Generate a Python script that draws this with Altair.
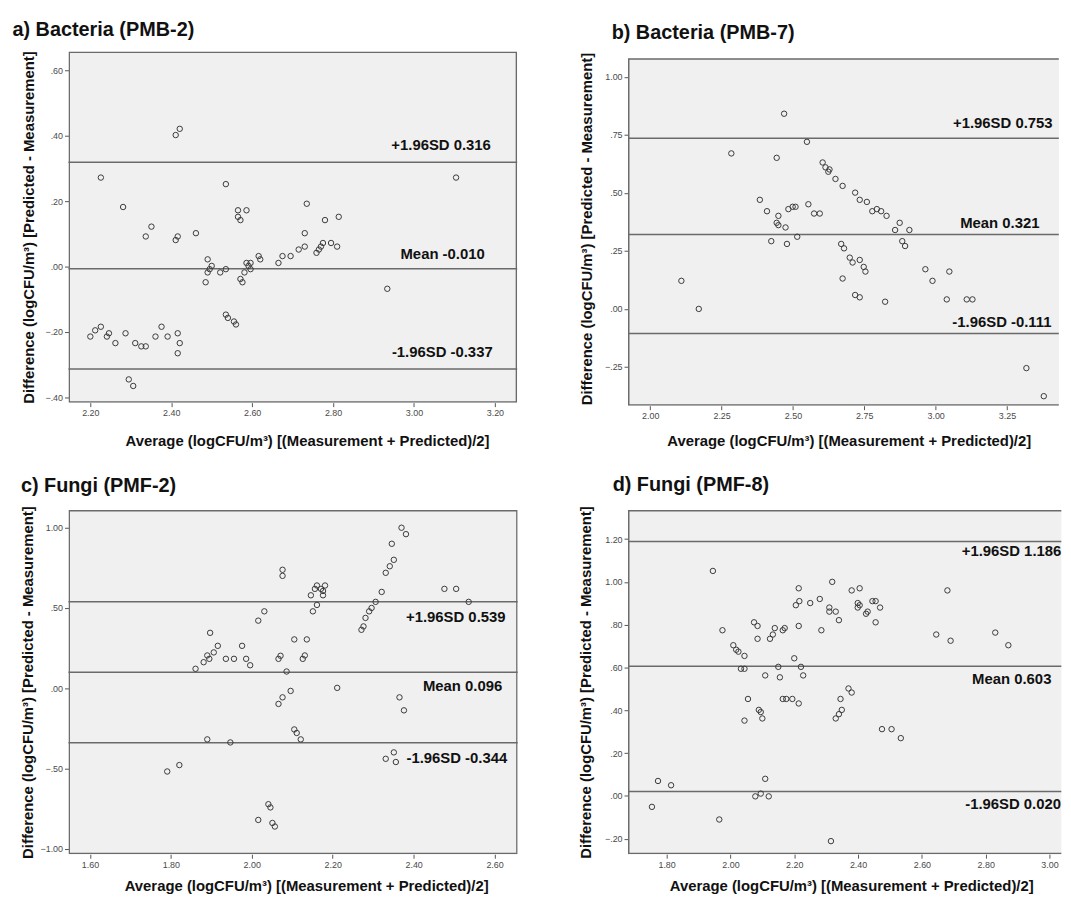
import altair as alt
import pandas as pd

FONT = "Liberation Sans"
X_TITLE = "Average (logCFU/m³) [(Measurement + Predicted)/2]"
Y_TITLE = "Difference (logCFU/m³) [Predicted - Measurement]"

# ---------------- panel a) Bacteria (PMB-2) ----------------
a_avg = [2.200, 2.212, 2.226, 2.226, 2.241, 2.246, 2.262, 2.281, 2.287, 2.295,
         2.306, 2.311, 2.326, 2.337, 2.337, 2.351, 2.361, 2.376, 2.391, 2.411,
         2.421, 2.411, 2.416, 2.416, 2.421, 2.416, 2.461, 2.485, 2.490, 2.490,
         2.495, 2.500, 2.521, 2.535, 2.535, 2.535, 2.540, 2.555, 2.560, 2.565,
         2.565, 2.571, 2.571, 2.576, 2.581, 2.586, 2.586, 2.591, 2.596, 2.596,
         2.616, 2.620, 2.665, 2.675, 2.695, 2.715, 2.730, 2.730, 2.735, 2.759,
         2.765, 2.770, 2.775, 2.780, 2.795, 2.810, 2.814, 2.934, 3.104]
a_diff = [-0.214, -0.195, 0.272, -0.184, -0.214, -0.204, -0.234, 0.182, -0.204, -0.345,
          -0.365, -0.234, -0.244, -0.244, 0.092, 0.122, -0.214, -0.184, -0.214, 0.402,
          0.421, 0.081, 0.092, -0.204, -0.234, -0.265, 0.102, -0.048, 0.022, -0.018,
          -0.008, 0.002, -0.018, 0.252, -0.008, -0.147, -0.157, -0.168, -0.177, 0.172,
          0.152, 0.142, -0.038, -0.048, -0.018, 0.172, 0.011, 0.002, 0.011, -0.008,
          0.032, 0.022, 0.011, 0.032, 0.032, 0.052, 0.061, 0.102, 0.192, 0.042,
          0.052, 0.061, 0.072, 0.142, 0.072, 0.061, 0.152, -0.068, 0.272]
a_lines = [0.319, -0.007, -0.313]
a_labels = ["+1.96SD 0.316", "Mean -0.010", "-1.96SD -0.337"]
a_xticks = [2.2, 2.4, 2.6, 2.8, 3.0, 3.2]
a_yticks = [-0.4, -0.2, 0.0, 0.2, 0.4, 0.6]

# ---------------- panel b) Bacteria (PMB-7) ----------------
b_avg = [2.109, 2.170, 2.284, 2.384, 2.409, 2.443, 2.443, 2.449, 2.449, 2.424,
         2.469, 2.474, 2.479, 2.484, 2.499, 2.509, 2.515, 2.549, 2.554, 2.574,
         2.594, 2.604, 2.614, 2.624, 2.628, 2.649, 2.669, 2.674, 2.679, 2.674,
         2.699, 2.709, 2.718, 2.718, 2.734, 2.734, 2.734, 2.748, 2.754, 2.759,
         2.778, 2.794, 2.809, 2.823, 2.828, 2.858, 2.874, 2.883, 2.893, 2.908,
         2.964, 2.989, 3.039, 3.048, 3.109, 3.129, 3.318, 3.379]
b_diff = [0.121, 0.000, 0.670, 0.470, 0.421, 0.651, 0.371, 0.401, 0.361, 0.292,
          0.841, 0.351, 0.280, 0.430, 0.440, 0.440, 0.311, 0.720, 0.451, 0.411,
          0.411, 0.631, 0.610, 0.591, 0.601, 0.560, 0.280, 0.530, 0.261, 0.131,
          0.221, 0.200, 0.501, 0.060, 0.470, 0.211, 0.050, 0.181, 0.161, 0.461,
          0.421, 0.430, 0.421, 0.031, 0.401, 0.340, 0.371, 0.292, 0.271, 0.340,
          0.171, 0.121, 0.041, 0.161, 0.041, 0.041, -0.255, -0.376]
b_lines = [0.735, 0.321, -0.106]
b_labels = ["+1.96SD 0.753", "Mean 0.321", "-1.96SD -0.111"]
b_xticks = [2.0, 2.25, 2.5, 2.75, 3.0, 3.25]
b_yticks = [-0.25, 0.0, 0.25, 0.5, 0.75, 1.0]

# ---------------- panel c) Fungi (PMF-2) ----------------
c_avg = [1.791, 1.821, 1.861, 1.881, 1.890, 1.895, 1.897, 1.906, 1.916, 1.890,
         1.936, 1.947, 1.956, 1.976, 1.986, 1.996, 2.016, 2.031, 2.016, 2.041,
         2.046, 2.051, 2.057, 2.066, 2.071, 2.076, 2.076, 2.066, 2.076, 2.086,
         2.096, 2.105, 2.105, 2.111, 2.121, 2.126, 2.131, 2.136, 2.146, 2.151,
         2.156, 2.161, 2.161, 2.171, 2.176, 2.181, 2.176, 2.211, 2.271, 2.276,
         2.281, 2.290, 2.296, 2.306, 2.321, 2.331, 2.341, 2.346, 2.351, 2.331,
         2.351, 2.356, 2.365, 2.370, 2.376, 2.381, 2.476, 2.505, 2.536]
c_diff = [-0.519, -0.479, 0.121, 0.162, 0.204, 0.183, 0.345, 0.223, 0.264, -0.319,
          0.183, -0.338, 0.183, 0.264, 0.183, 0.143, 0.421, 0.479, -0.821, -0.723,
          -0.743, -0.840, -0.862, 0.183, 0.202, 0.738, 0.700, -0.098, -0.057, 0.104,
          -0.017, 0.304, -0.257, -0.279, -0.319, 0.183, 0.204, 0.304, 0.579, 0.479,
          0.619, 0.519, 0.640, 0.619, 0.579, 0.640, 0.606, 0.002, 0.364, 0.385,
          0.438, 0.479, 0.500, 0.538, 0.600, 0.719, 0.760, 0.900, 0.800, -0.440,
          -0.400, -0.460, -0.057, 1.000, -0.138, 0.960, 0.619, 0.619, 0.538]
c_lines = [0.538, 0.100, -0.340]
c_labels = ["+1.96SD 0.539", "Mean 0.096", "-1.96SD -0.344"]
c_xticks = [1.6, 1.8, 2.0, 2.2, 2.4, 2.6]
c_yticks = [-1.0, -0.5, 0.0, 0.5, 1.0]

# ---------------- panel d) Fungi (PMF-8) ----------------
d_avg = [1.754, 1.773, 1.814, 1.945, 1.965, 1.975, 2.009, 2.018, 2.025, 2.033,
         2.044, 2.044, 2.055, 2.044, 2.074, 2.085, 2.085, 2.078, 2.089, 2.095,
         2.100, 2.095, 2.109, 2.109, 2.120, 2.124, 2.133, 2.139, 2.150, 2.155,
         2.164, 2.170, 2.164, 2.175, 2.194, 2.200, 2.205, 2.214, 2.216, 2.214,
         2.214, 2.221, 2.228, 2.250, 2.280, 2.285, 2.310, 2.310, 2.319, 2.330,
         2.340, 2.315, 2.330, 2.340, 2.345, 2.349, 2.370, 2.380, 2.380, 2.399,
         2.399, 2.405, 2.405, 2.425, 2.430, 2.445, 2.455, 2.455, 2.469, 2.475,
         2.505, 2.534, 2.645, 2.680, 2.690, 2.830, 2.871]
d_diff = [-0.051, 0.070, 0.050, 1.051, -0.110, 0.774, 0.704, 0.683, 0.674, 0.594,
          0.594, 0.654, 0.453, 0.352, 0.811, 0.794, 0.734, -0.002, 0.402, 0.392,
          0.362, 0.011, 0.563, 0.080, -0.002, 0.734, 0.754, 0.784, 0.603, 0.554,
          0.774, 0.784, 0.453, 0.453, 0.453, 0.643, 0.891, 0.970, 0.910, 0.794,
          0.432, 0.603, 0.563, 0.901, 0.920, 0.774, 0.880, 0.861, 1.000, 0.861,
          0.821, -0.211, 0.362, 0.382, 0.453, 0.402, 0.502, 0.483, 0.960, 0.901,
          0.880, 0.970, 0.891, 0.851, 0.861, 0.910, 0.910, 0.811, 0.880, 0.312,
          0.312, 0.270, 0.754, 0.960, 0.725, 0.763, 0.704]
d_lines = [1.189, 0.606, 0.021]
d_labels = ["+1.96SD 1.186", "Mean 0.603", "-1.96SD 0.020"]
d_xticks = [1.8, 2.0, 2.2, 2.4, 2.6, 2.8, 3.0]
d_yticks = [-0.2, 0.0, 0.2, 0.4, 0.6, 0.8, 1.0, 1.2]

Y_LABEL_EXPR = "replace(format(datum.value, '.2f'), '0.', '.')"


def panel(avg, diff, lines, labels, title, xdom, ydom, xticks, yticks,
          W, H, frame_top, right_open, ann_dy, ann_rpad,
          title_dx, title_offset, ytitle_x, xtitle_x, xtitle_y):
    pts = pd.DataFrame({"avg": avg, "diff": diff})
    ann = pd.DataFrame({"val": lines, "lab": labels})
    xs = alt.Scale(domain=xdom, nice=False, zero=False)
    ys = alt.Scale(domain=ydom, nice=False, zero=False)
    x_axis = alt.Axis(values=xticks, format=".2f", title=X_TITLE,
                      titleX=xtitle_x, titleY=xtitle_y, titleBaseline="middle")
    y_axis = alt.Axis(values=yticks, labelExpr=Y_LABEL_EXPR, title=Y_TITLE,
                      titleX=ytitle_x, titleBaseline="middle")

    frame = alt.Chart(pd.DataFrame({"k": [0]})).mark_rect(
        fill="#f0f0f0", stroke="#6a6a6a", strokeWidth=1.5, clip=True
    ).encode(
        x=alt.value(0.75),
        x2=alt.value(W + 3 if right_open else W - 0.75),
        y=alt.value(frame_top + 0.75),
        y2=alt.value(H - 0.75),
    )

    rules = alt.Chart(ann).mark_rule(color="#6a6a6a", strokeWidth=1.5).encode(
        y=alt.Y("val:Q", scale=ys, axis=y_axis)
    )

    points = alt.Chart(pts).mark_point(
        shape="circle", filled=False, size=30, color="#3a3a3a", strokeWidth=1, opacity=1
    ).encode(
        x=alt.X("avg:Q", scale=xs, axis=x_axis),
        y=alt.Y("diff:Q", scale=ys, axis=y_axis),
    )

    texts = []
    for i in range(len(labels)):
        t = alt.Chart(ann.iloc[[i]]).mark_text(
            align="right", baseline="middle", dy=ann_dy[i],
            font=FONT, fontSize=15, fontWeight="bold", color="#111111"
        ).encode(
            y=alt.Y("val:Q", scale=ys, axis=y_axis),
            x=alt.value(W - ann_rpad[i]),
            text="lab:N",
        )
        texts.append(t)

    return alt.layer(frame, rules, points, *texts).properties(
        width=W, height=H,
        title=alt.TitleParams(
            text=title, anchor="start", frame="group", dx=title_dx,
            offset=title_offset, baseline="alphabetic",
            font=FONT, fontSize=20, fontWeight="bold", color="#111111"),
    )


pa = panel(a_avg, a_diff, a_lines, a_labels, "a) Bacteria (PMB-2)",
           [2.146, 3.255], [-0.416, 0.6576], a_xticks, a_yticks,
           452.5, 354.2, 0, False, [-17, -15, -17], [26.5, 32.7, 24.7],
           -56.5, -5, -40.6, 240.6, 38)

pb = panel(b_avg, b_diff, b_lines, b_labels, "b) Bacteria (PMB-7)",
           [1.922, 3.4317], [-0.417, 1.1094], b_xticks, b_yticks,
           434.5, 357.3, 7, True, [-15.5, -11, -12], [6.3, 19.5, 7.4],
           -16.5, -7.5, -42, 222.6, 35)

pc = panel(c_avg, c_diff, c_lines, c_labels, "c) Fungi (PMF-2)",
           [1.547, 2.657], [-1.035, 1.111], c_xticks, c_yticks,
           453, 347.3, 0, False, [15, 14.5, 15], [12.2, 15.6, 10.5],
           -48, -6.3, -41.3, 239.7, 32)

pd_ = panel(d_avg, d_diff, d_lines, d_labels, "d) Fungi (PMF-8)",
            [1.679, 3.037], [-0.272, 1.336], d_xticks, d_yticks,
            437, 347.2, 0, True, [9.7, 13, 12.2], [0, 10, 0.3],
            -15.5, -5.2, -43, 225.1, 32)

chart = alt.concat(
    pa, pb, pc, pd_, columns=2,
    spacing=alt.RowColnumber(row=104.4, column=111.3),
    bounds="flush",
).properties(
    padding={"left": 4, "top": 7, "right": 0, "bottom": 0}
).configure_view(
    stroke="transparent"
).configure_axis(
    labelFont=FONT, labelFontSize=9, labelColor="#4a4a4a",
    tickColor="#555555", tickSize=4, tickWidth=1, labelPadding=2,
    domain=False, grid=False,
    titleFont=FONT, titleFontSize=15, titleFontWeight="bold", titleColor="#111111",
)

chart.save("out.html", embed_options={"renderer": "svg", "actions": False})
